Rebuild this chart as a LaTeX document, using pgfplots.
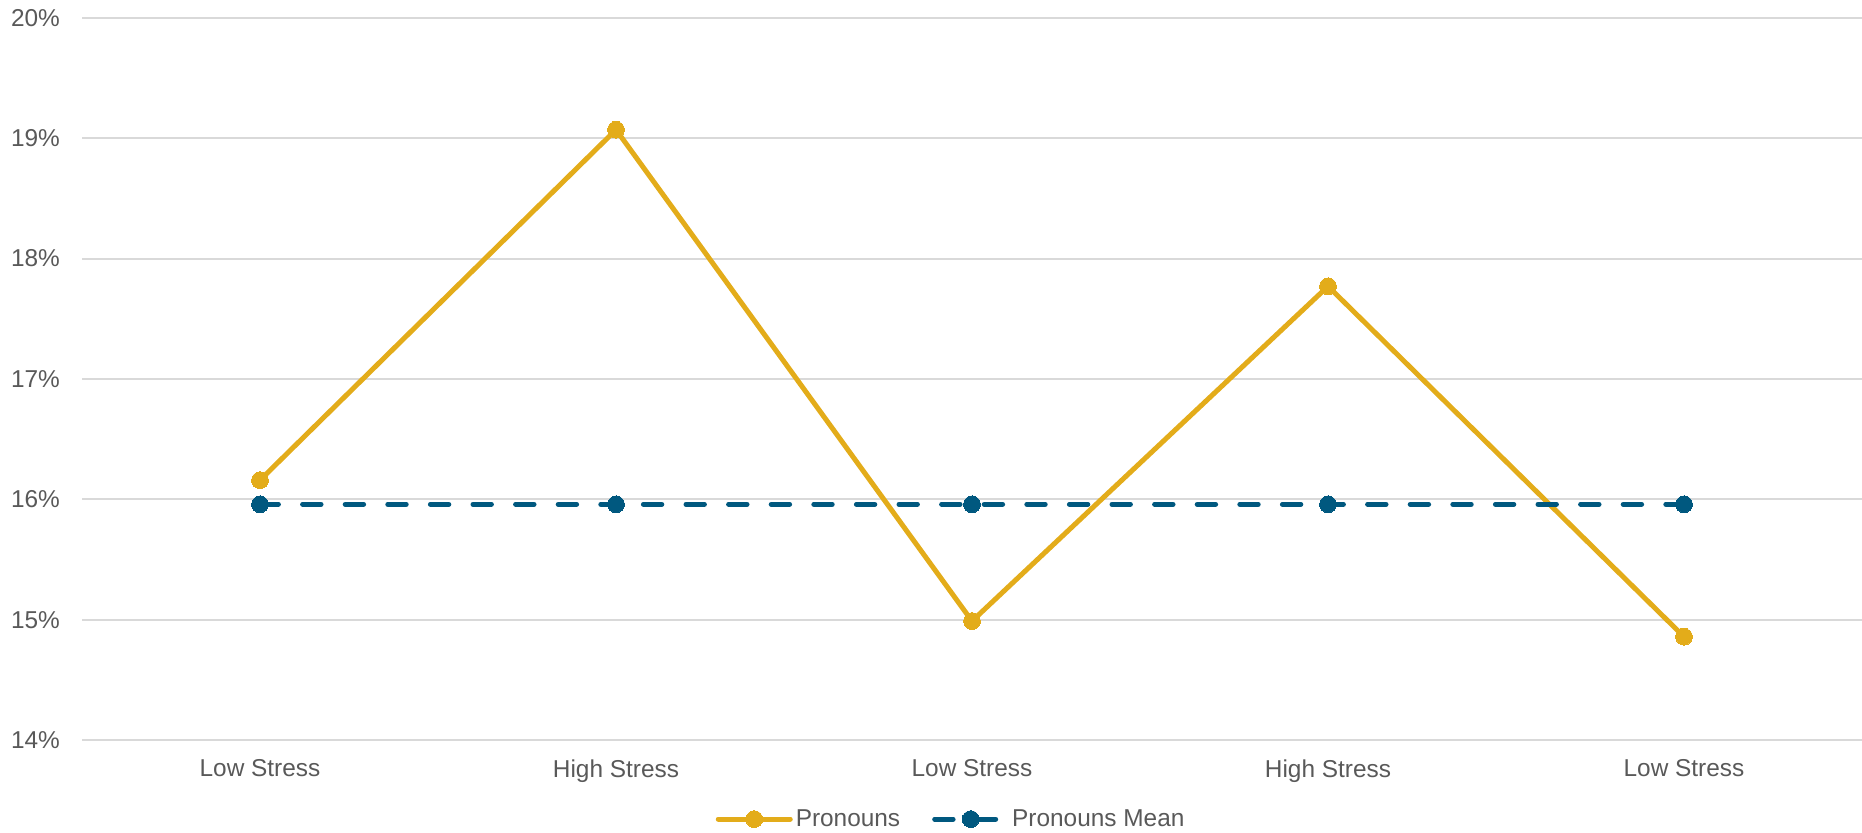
\documentclass[border=0pt]{standalone}
\usepackage{pgfplots}
\pgfplotsset{compat=1.18}
\usepackage{fontspec}
\setmainfont{Liberation Sans}
\definecolor{orangeL}{HTML}{E3AC1A}
\definecolor{blueL}{HTML}{00587F}
\definecolor{gridc}{HTML}{D9D9D9}
\definecolor{txt}{HTML}{595959}
\begin{document}
\begin{tikzpicture}
\begin{axis}[
  at={(0,0)}, anchor=south west,
  scale only axis,
  width=890pt, height=361.3pt,
  xmin=-0.5, xmax=4.5,
  ymin=14, ymax=20,
  axis line style={draw=none},
  major tick length=0pt,
  xtick={0,1,2,3,4},
  xticklabels={Low Stress,High Stress,Low Stress,High Stress,Low Stress},
  ytick={14,15,16,17,18,19,20},
  yticklabel={\pgfmathprintnumber{\tick}\%},
  /pgf/number format/assume math mode=true,
  ymajorgrids,
  grid style={gridc, line width=1pt},
  tick label style={font=\fontsize{12.2}{14}\selectfont, text=txt},
  yticklabel style={xshift=-7.5pt},
  xticklabel style={yshift=-6pt},
  legend style={at={(0.5,0)}, anchor=center, yshift=-39.4pt, xshift=-10.2pt,
    draw=none, fill=none, font=\fontsize{12.2}{14}\selectfont, text=txt,
    column sep=0pt, /tikz/every even column/.append style={column sep=14.5pt},
    nodes={inner xsep=1.5pt}},
  legend columns=2,
  legend cell align=left,
  legend image code/.code={\draw[mark repeat=2, mark phase=2, #1] plot coordinates {(0pt,0pt) (18pt,0pt) (36pt,0pt)};},
]
\addplot[orangeL, line width=2.5pt, line cap=round, line join=round, mark=*, mark size=4.2pt, mark options={solid, fill=orangeL, draw=orangeL, line width=0pt}]
  coordinates {(0,16.16) (1,19.07) (2,14.99) (3,17.77) (4,14.86)};
\addlegendentry{Pronouns}
\addplot[blueL, line width=2.5pt, line cap=round, dash pattern=on 9.2pt off 12.1pt, mark=*, mark size=4.2pt, mark options={solid, fill=blueL, draw=blueL, line width=0pt}]
  coordinates {(0,15.96) (1,15.96) (2,15.96) (3,15.96) (4,15.96)};
\addlegendentry{Pronouns Mean}
\end{axis}
\pgfresetboundingbox
\path[use as bounding box] (-41pt,-45.85pt) rectangle (890pt,370.15pt);
\end{tikzpicture}
\end{document}
